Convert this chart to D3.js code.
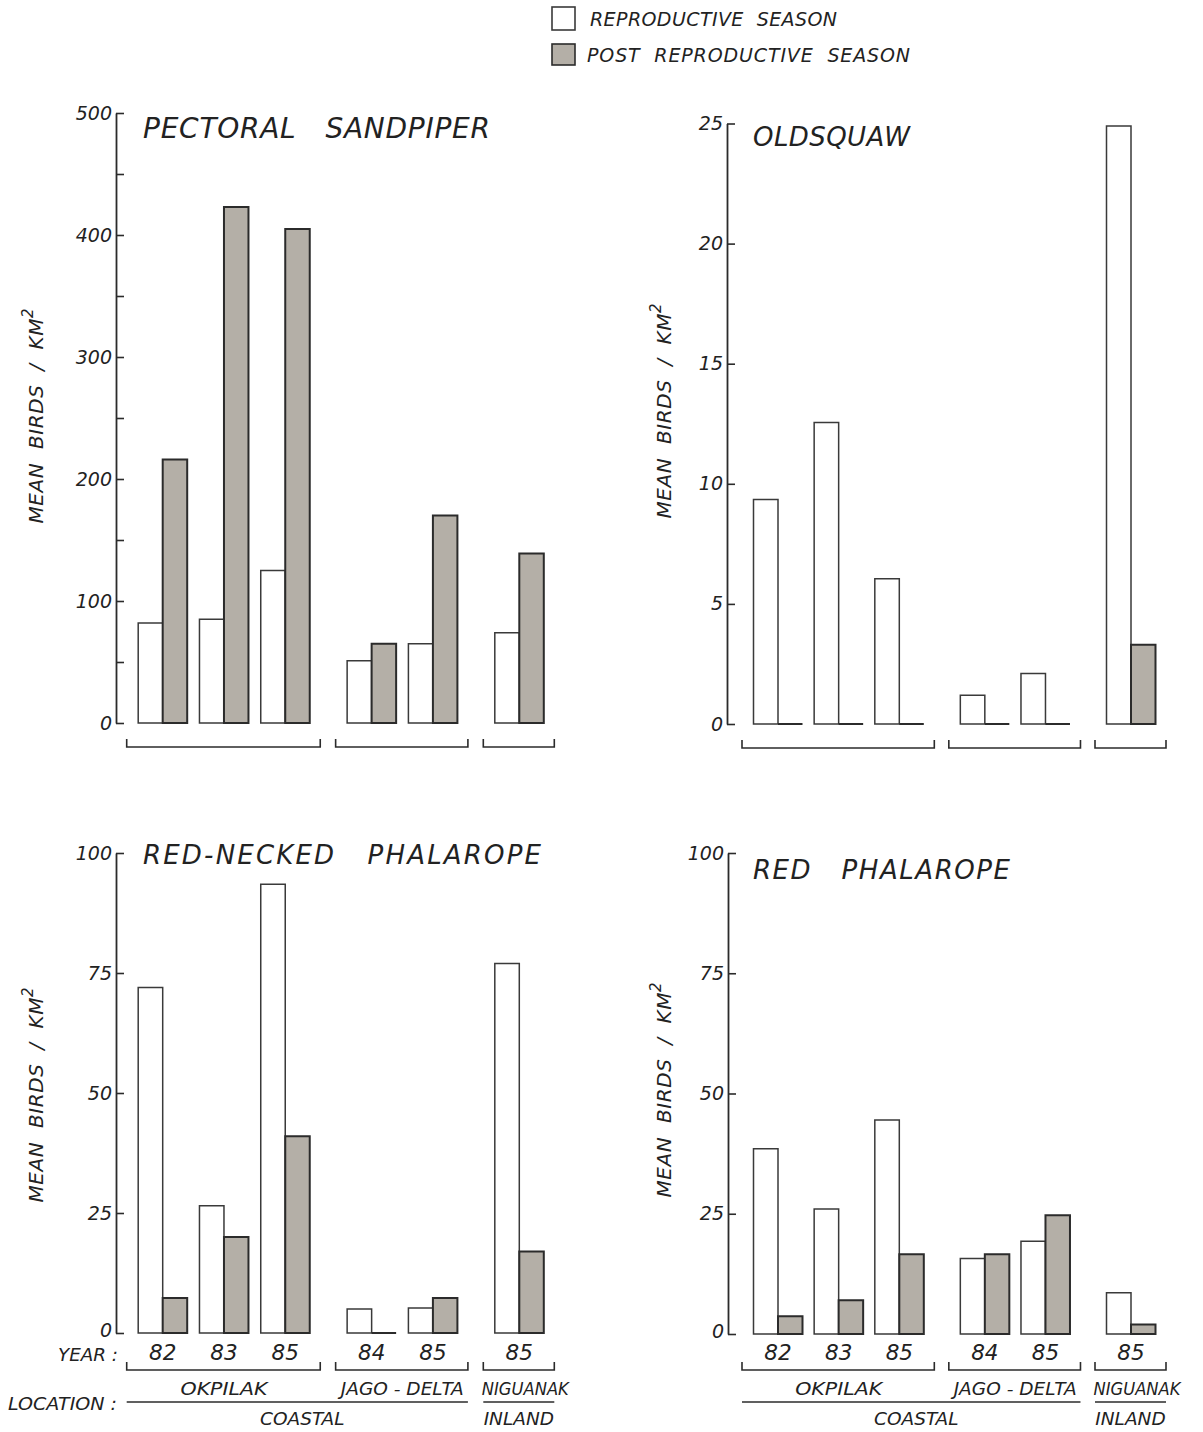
<!DOCTYPE html>
<html>
<head>
<meta charset="utf-8">
<script src="https://cdn.jsdelivr.net/npm/d3@7"></script>
<style>
  html, body { margin: 0; padding: 0; background: #fff; }
  svg text { font-family: "DejaVu Sans", sans-serif; font-style: italic; fill: #222; white-space: pre; }
</style>
</head>
<body>
<svg id="chart" width="1203" height="1432"></svg>
<script>
// ---------- DATA ----------
const yearLabels = ["82", "83", "85", "84", "85", "85"];
const locationOfGroup = [0, 0, 0, 1, 1, 2];
const locations = ["OKPILAK", "JAGO - DELTA", "NIGUANAK"];
const habitats = ["COASTAL", "INLAND"];
const habitatOfLocation = [0, 0, 1];
const seriesNames = ["REPRODUCTIVE  SEASON", "POST  REPRODUCTIVE  SEASON"];

const pectoralRepro = [82, 85, 125, 51, 65, 74];
const pectoralPost  = [216, 423, 405, 65, 170, 139];
const oldsquawRepro = [9.35, 12.55, 6.05, 1.2, 2.1, 24.9];
const oldsquawPost  = [0, 0, 0, 0, 0, 3.3];
const rnPhalRepro   = [72, 26.5, 93.5, 5, 5.2, 77];
const rnPhalPost    = [7.3, 20, 41, 0, 7.3, 17];
const redPhalRepro  = [38.5, 26, 44.5, 15.7, 19.3, 8.6];
const redPhalPost   = [3.7, 7, 16.6, 16.6, 24.7, 2];

const yTickValuesPectoral = [0, 50, 100, 150, 200, 250, 300, 350, 400, 450, 500];
const yTickValuesOldsquaw = [0, 5, 10, 15, 20, 25];
const yTickValuesPhal     = [0, 25, 50, 75, 100];

// ---------- LAYOUT ----------
const svg = d3.select("#chart");
const GRAY = "#b4afa7";
const DARK = "#2b2b2b";

const panels = [
  { title: "PECTORAL   SANDPIPER", repro: pectoralRepro, post: pectoralPost, max: 500,
    ticks: yTickValuesPectoral, labelEvery: 100,
    axisX: 116, y0: 723, yTop: 113, c0: 162.7, c1: 519.3,
    titleX: 143, titleY: 138, titleLen: 347, titleSize: 28,
    yLabelX: 37, yLabelY: 416, full: false },
  { title: "OLDSQUAW", repro: oldsquawRepro, post: oldsquawPost, max: 25,
    ticks: yTickValuesOldsquaw, labelEvery: 5,
    axisX: 727, y0: 724, yTop: 123.5, c0: 778, c1: 1131,
    titleX: 753, titleY: 146, titleLen: 157, titleSize: 26,
    yLabelX: 665, yLabelY: 411, full: false },
  { title: "RED-NECKED   PHALAROPE", repro: rnPhalRepro, post: rnPhalPost, max: 100,
    ticks: yTickValuesPhal, labelEvery: 25,
    axisX: 116, y0: 1333, yTop: 853, c0: 162.7, c1: 519.3,
    titleX: 143, titleY: 864, titleLen: 398, titleSize: 26,
    yLabelX: 37, yLabelY: 1095, full: true, leftLabels: true },
  { title: "RED   PHALAROPE", repro: redPhalRepro, post: redPhalPost, max: 100,
    ticks: yTickValuesPhal, labelEvery: 25,
    axisX: 728, y0: 1334, yTop: 853, c0: 778, c1: 1131,
    titleX: 753, titleY: 879, titleLen: 257, titleSize: 26,
    yLabelX: 665, yLabelY: 1090, full: true, leftLabels: false }
];

const locationLabelLen = [87, 123, 87];
const GAP = 0.41;
const slot = i => i + GAP * locationOfGroup[i];
const BW = 24.5;

panels.forEach(p => {
  const g = svg.append("g");
  const y = d3.scaleLinear().domain([0, p.max]).range([p.y0, p.yTop]);
  const x = d3.scaleLinear().domain([0, slot(yearLabels.length - 1)]).range([p.c0, p.c1]);

  // axis
  const axis = d3.axisLeft(y)
    .tickValues(p.ticks)
    .tickFormat(d => (d % p.labelEvery === 0 ? d : ""))
    .tickSizeInner(-8).tickSizeOuter(0).tickPadding(4);
  const ag = g.append("g").attr("transform", `translate(${p.axisX},0)`).call(axis);
  ag.select(".domain").attr("stroke", DARK).attr("stroke-width", 1.8);
  ag.selectAll(".tick line").attr("stroke", DARK).attr("stroke-width", 1.6);
  ag.selectAll(".tick text")
    .attr("font-size", 19).attr("font-family", "DejaVu Sans").attr("font-style", "italic")
    .attr("fill", "#222");
  if (p.full) {
    ag.selectAll(".tick text").filter(d => d === 0).attr("dy", "0.2em");
  }

  // bars
  const barPath = (xl, v) => {
    const yt = y(v);
    return `M${xl},${p.y0}V${yt}H${xl + BW}V${p.y0}Z`;
  };
  yearLabels.forEach((yr, i) => {
    const cx = x(slot(i));
    g.append("path").attr("d", barPath(cx - BW, p.repro[i]))
      .attr("fill", "#fff").attr("stroke", "#3a3a3a").attr("stroke-width", 1.5);
    g.append("path").attr("d", barPath(cx, p.post[i]))
      .attr("fill", p.post[i] > 0 ? GRAY : "none").attr("stroke", DARK).attr("stroke-width", 2);
  });

  // title
  g.append("text").attr("x", p.titleX).attr("y", p.titleY)
    .attr("font-size", p.titleSize).attr("textLength", p.titleLen).attr("lengthAdjust", "spacing")
    .text(p.title);

  // y label
  const yl = g.append("text")
    .attr("transform", `translate(${p.yLabelX},${p.yLabelY}) rotate(-90)`)
    .attr("text-anchor", "middle").attr("dominant-baseline", "middle")
    .attr("font-size", 20);
  yl.append("tspan").attr("textLength", 205).attr("lengthAdjust", "spacing").text("MEAN  BIRDS  /  KM");
  yl.append("tspan").attr("font-size", 15).attr("dy", -9).text("2");

  // location groups
  const bracketY = p.full ? 1370 : p.y0 + 24;
  locations.forEach((loc, li) => {
    const idx = d3.range(yearLabels.length).filter(i => locationOfGroup[i] === li);
    const xa = x(slot(idx[0])) - 36;
    const xb = x(slot(idx[idx.length - 1])) + 35;
    g.append("path").attr("d", `M${xa},${bracketY - 8}V${bracketY}H${xb}V${bracketY - 8}`)
      .attr("fill", "none").attr("stroke", DARK).attr("stroke-width", 1.6);
    if (p.full) {
      const cx = (x(slot(idx[0])) + x(slot(idx[idx.length - 1]))) / 2 + (li === 2 ? 6 : 0);
      g.append("text").attr("x", cx).attr("y", 1395).attr("text-anchor", "middle")
        .attr("font-size", 18.5).attr("textLength", locationLabelLen[li])
        .attr("lengthAdjust", "spacingAndGlyphs").text(loc);
    }
  });

  if (p.full) {
    // year labels
    yearLabels.forEach((yr, i) => {
      g.append("text").attr("x", x(slot(i))).attr("y", 1360).attr("text-anchor", "middle")
        .attr("font-size", 21.5).text(yr);
    });
    // habitat lines and labels
    habitats.forEach((h, hi) => {
      const idx = d3.range(yearLabels.length).filter(i => habitatOfLocation[locationOfGroup[i]] === hi);
      const xa = x(slot(idx[0])) - 36;
      const xb = x(slot(idx[idx.length - 1])) + 35;
      g.append("line").attr("x1", xa).attr("x2", xb).attr("y1", 1402).attr("y2", 1402)
        .attr("stroke", DARK).attr("stroke-width", 1.4);
      g.append("text").attr("x", (xa + xb) / 2 + (hi === 0 ? 5 : 0)).attr("y", 1425).attr("text-anchor", "middle")
        .attr("font-size", 18.5).text(h);
    });
    if (p.leftLabels) {
      g.append("text").attr("x", 118).attr("y", 1361).attr("text-anchor", "end")
        .attr("font-size", 18.5).attr("textLength", 60).attr("lengthAdjust", "spacingAndGlyphs").text("YEAR :");
      g.append("text").attr("x", 117).attr("y", 1410).attr("text-anchor", "end")
        .attr("font-size", 18.5).attr("textLength", 109).attr("lengthAdjust", "spacingAndGlyphs").text("LOCATION :");
    }
  }
});

// legend
const legend = svg.append("g");
const legendRows = [
  { y: 7, h: 23, fill: "#fff", stroke: "#3a3a3a", tx: 590, ty: 26, len: 247 },
  { y: 44, h: 21, fill: GRAY, stroke: DARK, tx: 587, ty: 62, len: 323 }
];
seriesNames.forEach((name, i) => {
  const r = legendRows[i];
  legend.append("rect").attr("x", 552).attr("y", r.y).attr("width", 23).attr("height", r.h)
    .attr("fill", r.fill).attr("stroke", r.stroke).attr("stroke-width", 1.6);
  legend.append("text").attr("x", r.tx).attr("y", r.ty).attr("font-size", 19)
    .attr("textLength", r.len).attr("lengthAdjust", "spacing").text(name);
});
</script>
</body>
</html>
